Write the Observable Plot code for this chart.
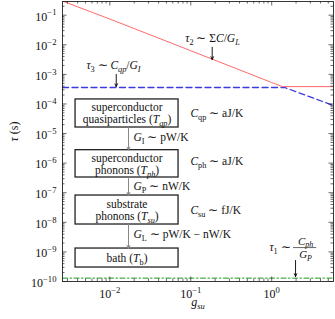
<!DOCTYPE html>
<html><head><meta charset="utf-8">
<script src="https://cdn.jsdelivr.net/npm/d3@7"></script>
<script src="https://cdn.jsdelivr.net/npm/@observablehq/plot@0.6"></script>
<style>body{margin:0;background:#fff} .it{font-style:italic}</style>
</head><body><div id="chart"></div>
<script>
// ---- axes ----
const xTicks = [0.01, 0.1, 1];
const xTickLabels = ["10^{−2}", "10^{−1}", "10^{0}"];
const yTicks = [1e-10, 1e-9, 1e-8, 1e-7, 1e-6, 1e-5, 1e-4, 1e-3, 1e-2, 1e-1];
const yTickLabels = ["10^{−10}", "10^{−9}", "10^{−8}", "10^{−7}", "10^{−6}", "10^{−5}", "10^{−4}", "10^{−3}", "10^{−2}", "10^{−1}"];

// ---- series ----
const redG   = [0.0026, 0.01, 0.1, 1, 1.36, 5.8];
const redTau = [0.30, 0.074, 0.0063, 5.3e-4, 3.85e-4, 3.85e-4];
const blueG   = [0.0026, 1.45, 5.8];
const blueTau = [3.6e-4, 3.6e-4, 8.8e-5];
const greenG   = [0.0026, 5.8];
const greenTau = [1.3e-10, 1.3e-10];

// ---- diagram boxes (data coordinates) ----
const boxLeft = 0.00377, boxRight = 0.0706;
const boxTop    = [1.42e-4, 2.74e-6, 8.05e-8, 1.30e-9];
const boxBottom = [1.60e-5, 3.27e-7, 8.43e-9, 2.97e-10];
const boxTextG = 0.0163;
const boxLines = ["superconductor", "quasiparticles (*T*_{*qp*})", "superconductor", "phonons (*T*_{*ph*})", "substrate", "phonons (*T*_{*su*})", "bath (*T*_{b})"];
const boxLineTau = [7.6e-5, 2.99e-5, 1.49e-6, 5.86e-7, 4.13e-8, 1.62e-8, 6.08e-10];
const linkG = 0.0170;
const linkLabels = ["*G*_{I} ∼ pW/K", "*G*_{P} ∼ nW/K", "*G*_{L} ∼ pW/K − nW/K"];
const linkLabelG = 0.0196;
const linkLabelTau = [7.36e-6, 1.66e-7, 3.87e-9];
const capLabels = ["*C*_{qp} ∼ aJ/K", "*C*_{ph} ∼ aJ/K", "*C*_{su} ∼ fJ/K"];
const capLabelG = 0.099;
const capLabelTau = [4.76e-5, 1.14e-6, 2.51e-8];

// ---- curve annotations ----
const tauLabels = ["*τ*_{3} ∼ *C*_{*qp*}/*G*_{*I*}", "*τ*_{2} ∼ Σ*C*/*G*_{*L*}"];
const tauLabelG = [0.0111, 0.1856];
const tauLabelTau = [2.0e-3, 0.0162];
const tauArrowG = [0.0120, 0.184, 1.97];
const tauArrowTau1 = [1.0e-3, 8.28e-3, 5.13e-10];
const tauArrowTau2 = [3.89e-4, 3.18e-3, 1.48e-10];
const tau1Lead = "*τ*_{1} ∼";
const tau1LeadG = 1.71, tau1LeadTau = 1.40e-9;
const fracNum = "*C*_{*ph*}", fracDen = "*G*_{*P*}";
const fracG = 2.62, fracNumTau = 2.3e-9, fracDenTau = 8.2e-10;
const fracBarG = [1.86, 3.6], fracBarTau = 1.40e-9;

// minor ticks
const xMinor = [], yMinor = [];
for (let e = -3; e <= 0; e++) for (let m = 2; m <= 9; m++) { const v = m * 10 ** e; if (v >= 0.0026 && v <= 5.8) xMinor.push(v); }
for (let e = -10; e <= -1; e++) for (let m = 2; m <= 9; m++) { const v = m * 10 ** e; if (v <= 0.29) yMinor.push(v); }

const W = 335, H = 319, mL = 62, mR = 2, mT = 1, mB = 38;
const pw = W - mL - mR, ph = H - mT - mB;
const tk = {stroke: "black", strokeWidth: 0.6};

const red = redG.map((g, i) => ({g, t: redTau[i]}));
const blue = blueG.map((g, i) => ({g, t: blueTau[i]}));
const green = greenG.map((g, i) => ({g, t: greenTau[i]}));
const boxes = boxTop.map((t, i) => ({t1: t, t2: boxBottom[i]}));
const links = [0, 1, 2].map(i => ({a: boxBottom[i], b: boxTop[i + 1]}));

const plot = Plot.plot({
  width: W, height: H,
  marginLeft: mL, marginRight: mR, marginTop: mT, marginBottom: mB,
  style: {fontFamily: "Liberation Serif, serif", background: "white"},
  x: {type: "log", domain: [0.0026, 5.8], axis: null},
  y: {type: "log", domain: [1e-10, 0.29], axis: null},
  marks: [
    Plot.line(green, {x: "g", y: "t", stroke: "#1f9a1f", strokeWidth: 1, strokeDasharray: "5,2.5,1.5,2.5", clip: true}),
    Plot.line(blue, {x: "g", y: "t", stroke: "#3a3ae0", strokeWidth: 1.3, strokeDasharray: "6,3.5", clip: true}),
    Plot.line(red, {x: "g", y: "t", stroke: "#ff6a6a", strokeWidth: 1, clip: true}),
    Plot.rect(boxes, {x1: () => boxLeft, x2: () => boxRight, y1: "t1", y2: "t2", fill: "white", stroke: "#222", strokeWidth: 1.3}),
    Plot.arrow(links, {x1: () => linkG, x2: () => linkG, y1: "a", y2: "b", stroke: "#888", strokeWidth: 1, headLength: 5, headAngle: 50}),
    Plot.arrow(tauArrowG, {x1: d => d, x2: d => d, y1: (d, i) => tauArrowTau1[i], y2: (d, i) => tauArrowTau2[i], stroke: "black", strokeWidth: 0.9, headLength: 5, headAngle: 50}),
    Plot.ruleY([fracBarTau], {y: d => d, x1: () => fracBarG[0], x2: () => fracBarG[1], stroke: "black", strokeWidth: 0.6}),
    Plot.text(boxLines, {x: () => boxTextG, y: (d, i) => boxLineTau[i], text: d => d, fontSize: 11.5, fill: "#111"}),
    Plot.text(linkLabels, {x: () => linkLabelG, y: (d, i) => linkLabelTau[i], text: d => d, textAnchor: "start", fontSize: 11.5, fill: "#111"}),
    Plot.text(capLabels, {x: () => capLabelG, y: (d, i) => capLabelTau[i], text: d => d, textAnchor: "start", fontSize: 11.5, fill: "#111"}),
    Plot.text(tauLabels, {x: (d, i) => tauLabelG[i], y: (d, i) => tauLabelTau[i], text: d => d, fontSize: 11.5, fill: "#111"}),
    Plot.text([tau1Lead], {x: () => tau1LeadG, y: () => tau1LeadTau, text: d => d, textAnchor: "end", fontSize: 11.5, fill: "#111"}),
    Plot.text([fracNum, fracDen], {x: () => fracG, y: (d, i) => i ? fracDenTau : fracNumTau, text: d => d, fontSize: 11, fill: "#111"}),
    // ticks
    Plot.tickX(xTicks, {x: d => d, insetTop: ph - 4.5, ...tk}),
    Plot.tickX(xTicks, {x: d => d, insetBottom: ph - 4.5, ...tk}),
    Plot.tickX(xMinor, {x: d => d, insetTop: ph - 2.5, ...tk}),
    Plot.tickX(xMinor, {x: d => d, insetBottom: ph - 2.5, ...tk}),
    Plot.tickY(yTicks, {y: d => d, insetRight: pw - 4.5, ...tk}),
    Plot.tickY(yTicks, {y: d => d, insetLeft: pw - 4.5, ...tk}),
    Plot.tickY(yMinor, {y: d => d, insetRight: pw - 2.5, ...tk}),
    Plot.tickY(yMinor, {y: d => d, insetLeft: pw - 2.5, ...tk}),
    Plot.frame({stroke: "#222", strokeWidth: 0.9}),
    // tick labels and axis labels
    Plot.text(xTicks, {x: d => d, frameAnchor: "bottom", lineAnchor: "top", dy: 8, text: (d, i) => xTickLabels[i], fontSize: 12, fill: "#111"}),
    Plot.text(yTicks, {y: d => d, frameAnchor: "left", textAnchor: "end", dx: -6, dy: 1.5, text: (d, i) => yTickLabels[i], fontSize: 12, fill: "#111"}),
    Plot.text(["*τ* (s)"], {frameAnchor: "left", dx: -48, rotate: -90, text: d => d, fontSize: 12, fill: "#111"}),
    Plot.text(["*g*_{*su*}"], {frameAnchor: "bottom", dy: 24, text: d => d, fontSize: 12, fill: "#111"})
  ]
});

function parseMarkup(s) {
  const parts = []; let it = false, mode = "", buf = "";
  const flush = () => { if (buf) { parts.push({t: buf, it, mode}); buf = ""; } };
  for (let i = 0; i < s.length; i++) {
    const c = s[i];
    if (c === "*") { flush(); it = !it; }
    else if ((c === "_" || c === "^") && s[i + 1] === "{") { flush(); mode = c === "_" ? "sub" : "sup"; i++; }
    else if (c === "}" && mode) { flush(); mode = ""; }
    else buf += c;
  }
  flush(); return parts;
}
function baseSizeOf(el) {
  let n = el;
  while (n && n.getAttribute) {
    const fs = n.getAttribute("font-size");
    if (fs) return parseFloat(fs);
    n = n.parentNode;
  }
  return 12;
}
function richify(el) {
  const base = baseSizeOf(el);
  const parts = parseMarkup(el.textContent);
  while (el.firstChild) el.removeChild(el.firstChild);
  let shift = 0;
  for (const p of parts) {
    const ts = document.createElementNS("http://www.w3.org/2000/svg", "tspan");
    let target = 0, size = base;
    if (p.mode === "sub") { target = base * 0.25; size = base * 0.72; }
    else if (p.mode === "sup") { target = -base * 0.42; size = base * 0.72; }
    const dy = target - shift;
    if (dy) ts.setAttribute("dy", dy.toFixed(2));
    shift = target;
    ts.setAttribute("font-size", size);
    if (p.it) { ts.setAttribute("font-style", "italic"); ts.setAttribute("class", "it"); ts.style.fontStyle = "italic"; }
    ts.textContent = p.t;
    el.appendChild(ts);
  }
}
const svgRoot = plot.tagName.toLowerCase() === "svg" ? plot : plot.querySelector("svg");
svgRoot.querySelectorAll("text").forEach(t => {
  const s = t.textContent;
  if (/[*]|_\{|\^\{/.test(s)) richify(t);
});
document.getElementById("chart").appendChild(plot);
</script>
</body></html>
